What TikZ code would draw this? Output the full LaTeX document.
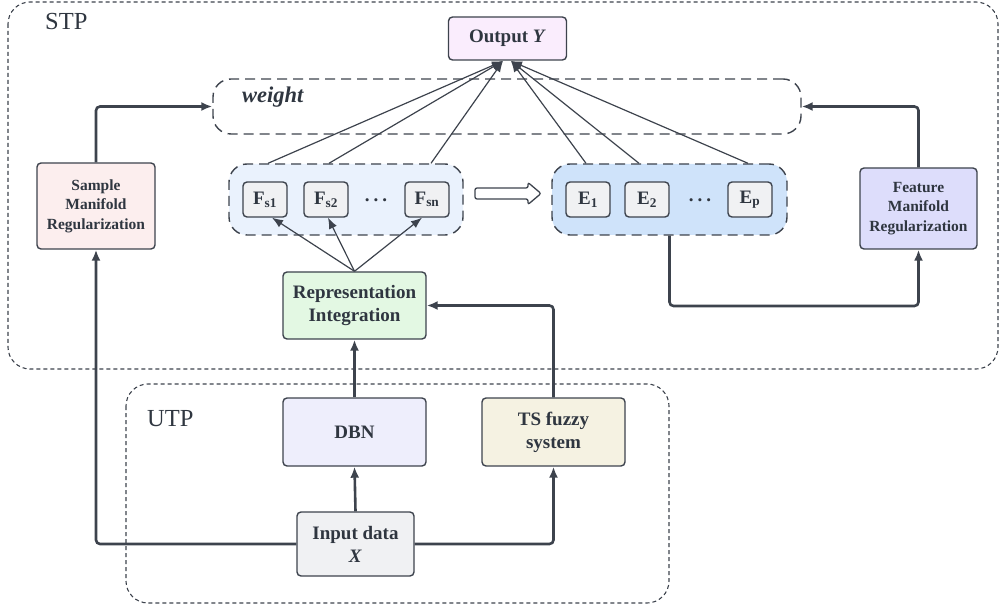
\documentclass[tikz,border=0pt]{standalone}
\usepackage{fontspec}
\setmainfont{Liberation Serif}
\usetikzlibrary{arrows.meta,calc}
\definecolor{txt}{HTML}{2F3640}
\definecolor{ln}{HTML}{3D434D}
\definecolor{fout}{HTML}{FAEDFD}
\definecolor{fsmr}{HTML}{FCEEEE}
\definecolor{ffmr}{HTML}{DDDDFB}
\definecolor{fri}{HTML}{E3F8E3}
\definecolor{fdbn}{HTML}{EEEEFC}
\definecolor{fts}{HTML}{F5F2E2}
\definecolor{finp}{HTML}{F0F1F3}
\definecolor{ffsg}{HTML}{EAF2FD}
\definecolor{feg}{HTML}{CFE3FA}
\tikzset{
  box/.style={draw=ln, line width=1.4pt, rounded corners=4pt, align=center,
    text=txt, font=\fontsize{19}{23}\selectfont\bfseries, inner sep=0pt},
  smallbox/.style={box, font=\fontsize{15.5}{19.5}\selectfont\bfseries},
  fbox/.style={box, fill=finp, minimum width=44pt, minimum height=35pt},
  grp/.style={draw=ln, line width=1.4pt, rounded corners=18pt, dash pattern=on 10pt off 6pt},
  region/.style={draw=ln, line width=1.1pt, rounded corners=22pt, dash pattern=on 4pt off 3pt},
  thick arrow/.style={draw=ln, line width=2.6pt, rounded corners=4pt, -{Latex[length=11pt,width=9pt]}},
  thin arrow/.style={draw=ln, line width=1.2pt, -{Latex[length=11pt,width=8.5pt]}},
  lab/.style={text=txt, font=\fontsize{24.5}{24.5}\selectfont, inner sep=0pt},
  dotsty/.style={text=txt, font=\fontsize{19}{19}\selectfont\bfseries, inner sep=0pt},
}
\begin{document}
\begin{tikzpicture}[x=1pt,y=-1pt]
\useasboundingbox (0,0) rectangle (999,612);
% regions
\draw[region] (8,2) rectangle (998,369);
\draw[region] (126,384) rectangle (669,603);
\node[lab, anchor=west] (stp) at (45,22) {STP};
\node[lab, anchor=west] (utp) at (147,419) {UTP};
% weight box
\node[grp, minimum width=588pt, minimum height=55pt] (weight) at (507,106.5) {};
\node[text=txt, font=\fontsize{22.5}{22.5}\selectfont\bfseries\itshape, anchor=west, inner sep=0pt] (wlab) at (242,97) {weight};
% groups
\node[grp, fill=ffsg, minimum width=234pt, minimum height=71pt] (fsg) at (346,199.5) {};
\node[grp, fill=feg, minimum width=235pt, minimum height=71pt] (eg) at (669.5,199.5) {};
\node[fbox] (fs1) at (265,199.5) {F\textsubscript{s1}};
\node[fbox] (fs2) at (326,199.5) {F\textsubscript{s2}};
\node[fbox] (fsn) at (427,199.5) {F\textsubscript{sn}};
\node[dotsty] (fdots) at (376,200) {.\hspace{4pt}.\hspace{4pt}.};
\node[fbox] (e1) at (588,199.5) {E\textsubscript{1}};
\node[fbox] (e2) at (647,199.5) {E\textsubscript{2}};
\node[fbox] (ep) at (750,199.5) {E\textsubscript{p}};
\node[dotsty] (edots) at (700,200) {.\hspace{4pt}.\hspace{4pt}.};
% hollow arrow
\draw[ln, line width=1.3pt, fill=white, rounded corners=2pt]
  (475,188) -- (528,188) -- (528,182.5) -- (541,193.5) -- (528,204.5) -- (528,199) -- (475,199) -- cycle;
% main nodes
\node[box, fill=fout, minimum width=118pt, minimum height=43pt] (out) at (507.5,38.5) {Output \textit{Y}};
\node[smallbox, fill=fsmr, minimum width=118pt, minimum height=86pt] (smr) at (96,206) {Sample\\Manifold\\Regularization};
\node[smallbox, fill=ffmr, minimum width=117pt, minimum height=81pt] (fmr) at (918.5,208.5) {Feature\\Manifold\\Regularization};
\node[box, fill=fri, minimum width=143pt, minimum height=67pt] (ri) at (354.5,305.5) {Representation\\Integration};
\node[box, fill=fdbn, minimum width=143pt, minimum height=68pt] (dbn) at (354.5,432) {DBN};
\node[box, fill=fts, minimum width=143pt, minimum height=68pt] (ts) at (553.5,432) {TS fuzzy\\system};
\node[box, fill=finp, minimum width=117pt, minimum height=64pt] (inp) at (355.5,544) {Input data\\\textit{X}};
% coordinates
\coordinate (outl) at (503,61);
\coordinate (outr) at (511,61);
\coordinate (elow) at (669.5,306);
% thick connectors
\draw[thick arrow] (inp.west) -| (smr.south);
\draw[thick arrow] (inp.east) -| (ts.south);
\draw[thick arrow] (inp.north) -- (dbn.south);
\draw[thick arrow] (dbn.north) -- (ri.south);
\draw[thick arrow] (ts.north) |- (ri.east);
\draw[thick arrow] (smr.north) |- (weight.west);
\draw[thick arrow] (fmr.north) |- (weight.east);
\draw[thick arrow] (eg.south) -- (elow) -| (fmr.south);
% thin connectors
\draw[thin arrow] (ri.north) -- ([xshift=7pt]fs1.south);
\draw[thin arrow] (ri.north) -- ([xshift=2pt]fs2.south);
\draw[thin arrow] (ri.north) -- ([xshift=-5pt]fsn.south);
\draw[thin arrow] ([xshift=-78pt]fsg.north) -- (outl);
\draw[thin arrow] ([xshift=-17pt]fsg.north) -- (outl);
\draw[thin arrow] ([xshift=85pt]fsg.north) -- (outl);
\draw[thin arrow] ([xshift=-83.5pt]eg.north) -- (outr);
\draw[thin arrow] ([xshift=-30.5pt]eg.north) -- (outr);
\draw[thin arrow] ([xshift=78.5pt]eg.north) -- (outr);
\end{tikzpicture}
\end{document}
